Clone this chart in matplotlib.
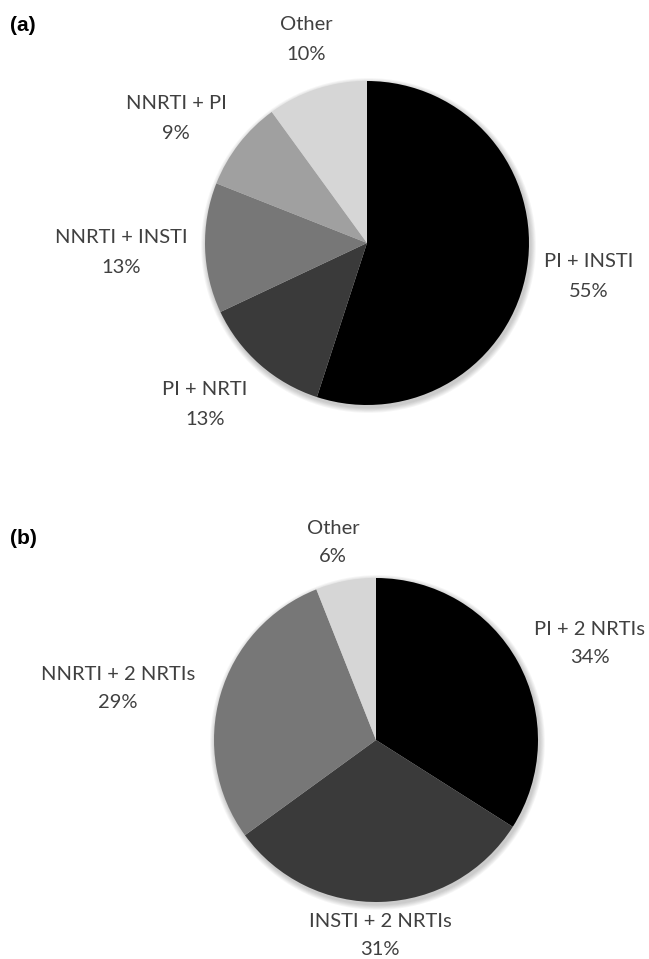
import matplotlib.pyplot as plt
from matplotlib.patches import Circle

# (a) slices, clockwise from 12 o'clock
labels_a = ['PI + INSTI', 'PI + NRTI', 'NNRTI + INSTI', 'NNRTI + PI', 'Other']
values_a = [55, 13, 13, 9, 10]
colors_a = ['#000000', '#3a3a3a', '#777777', '#a0a0a0', '#d6d6d6']

# (b) slices
labels_b = ['PI + 2 NRTIs', 'INSTI + 2 NRTIs', 'NNRTI + 2 NRTIs', 'Other']
values_b = [34, 31, 29, 6]
colors_b = ['#000000', '#3a3a3a', '#777777', '#d6d6d6']

# where the labels sit (pixels from top-left, centre of first line)
pos_a = [(589, 260), (205, 388), (121, 236), (176, 102), (306, 23)]
pos_b = [(590, 628), (380, 920), (118, 673), (333, 527)]

W, H = 649, 959
fig = plt.figure(figsize=(W / 100, H / 100), dpi=100)
ax = fig.add_axes([0, 0, 1, 1])


def draw_pie(values, colors, labels, pos, cx, cy, r, tag, tagpos, gap):
    c = (cx, H - cy)
    # soft excel-like shadow
    for k in range(1, 7):
        ax.add_patch(Circle((c[0] + 1.5, c[1] - 2.5), r + k * 0.9, color='k',
                            alpha=0.035, lw=0, zorder=0))
    ax.pie(values, colors=colors, startangle=90, counterclock=False,
           center=c, radius=r, frame=True, wedgeprops=dict(linewidth=0))
    for name, v, (x, y) in zip(labels, values, pos):
        ax.text(x, H - (y + 7), name, ha='center', va='baseline', fontsize=14.5,
                color='#404040', family='Lato')
        ax.text(x, H - (y + 7 + gap), f'{v}%', ha='center', va='baseline',
                fontsize=14.5, color='#404040', family='Lato')
    ax.text(tagpos[0], H - tagpos[1], tag, ha='left', va='baseline', fontsize=15,
            fontweight='bold', family='Liberation Sans', color='black')


draw_pie(values_a, colors_a, labels_a, pos_a, 367, 243, 162, '(a)', (10, 31), 30)
draw_pie(values_b, colors_b, labels_b, pos_b, 376, 740, 162, '(b)', (10, 544), 28)

ax.set_xlim(0, W)
ax.set_ylim(0, H)
ax.axis('off')
fig.savefig('out.png', dpi=100)
